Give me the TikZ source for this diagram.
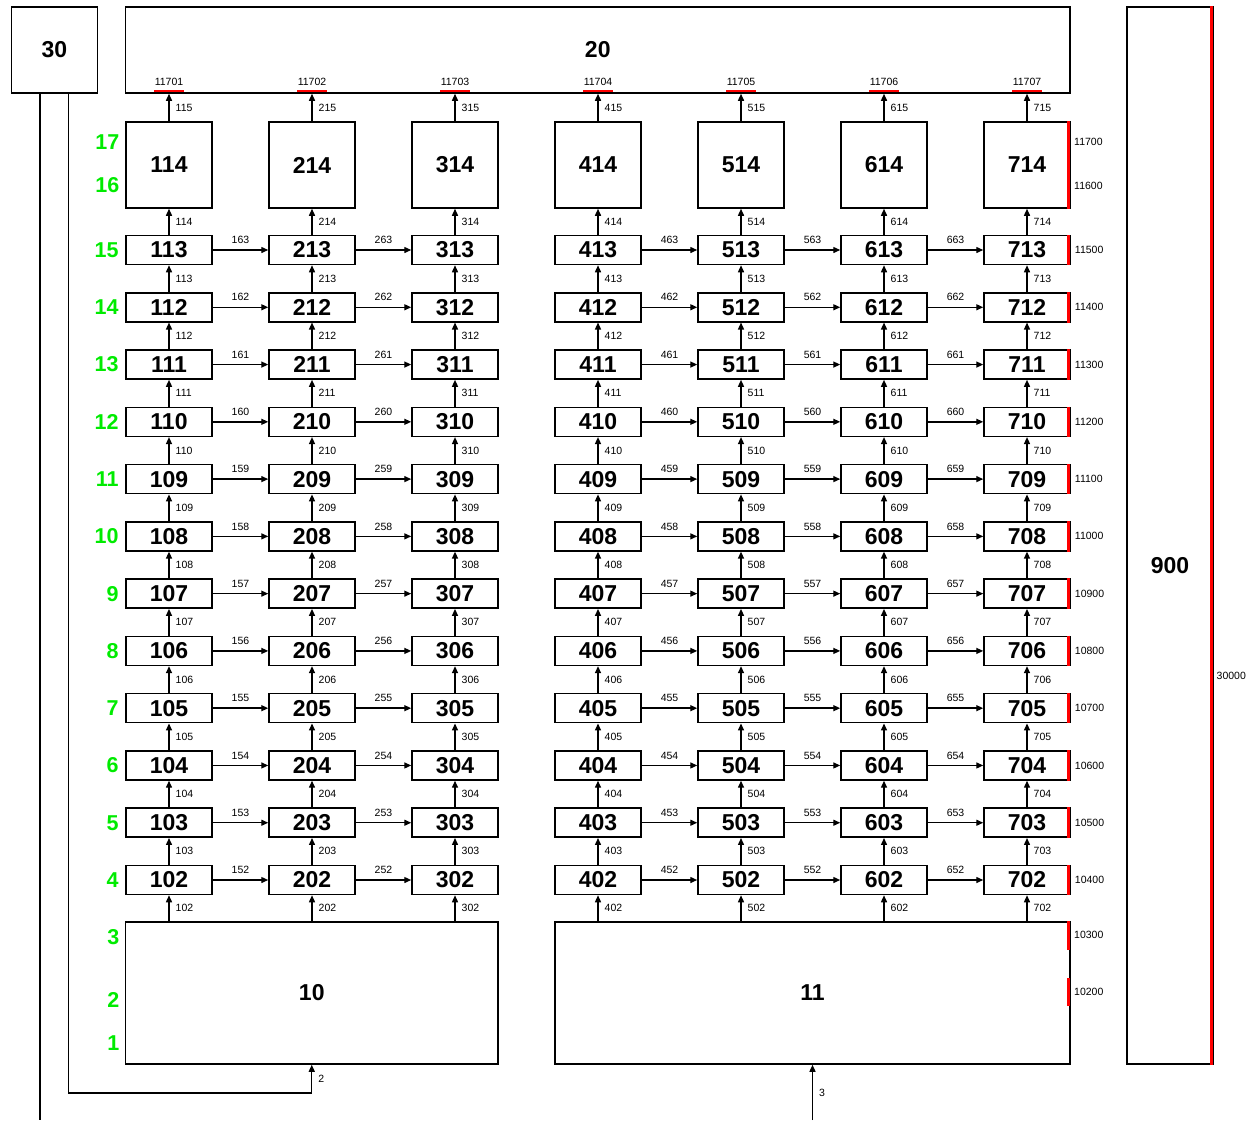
\documentclass[tikz,border=0pt]{standalone}
\usepackage{fontspec}
\setmainfont{Liberation Sans}
\usetikzlibrary{arrows.meta,calc}
\definecolor{gr}{RGB}{0,235,0}
\definecolor{rd}{RGB}{255,0,0}
\newcommand\bigtxt{\fontsize{23}{25}\selectfont\bfseries}
\newcommand\smtxt{\fontsize{10.5}{12}\selectfont}
\newcommand\grtxt{\fontsize{21.5}{24}\selectfont\bfseries}
\begin{document}
\begin{tikzpicture}[x=1pt,y=-1pt,
  box/.style={draw,line width=1.5pt,inner sep=0,font=\bigtxt},
  rowbox/.style={box,minimum width=86pt,minimum height=29pt},
  arr/.style={line width=1.4pt,-{Triangle[length=7pt,width=6pt]}},
  ln/.style={line width=1.4pt},
  vlab/.style={font=\smtxt,inner sep=0,anchor=west,xshift=6pt},
  hlab/.style={font=\smtxt,inner sep=0,anchor=south,yshift=5.5pt},
  rlab/.style={font=\smtxt,inner sep=0,anchor=west},
  tlab/.style={font=\smtxt,inner sep=0},
  glab/.style={font=\grtxt,text=gr,inner sep=0,anchor=east},
  redbar/.style={draw=rd,line width=2.6pt},
  sidebar/.style={draw=rd,line width=3.2pt}
]
\useasboundingbox (0,0) rectangle (1247,1120);

% big boxes
\node[box,minimum width=86pt,minimum height=86pt] (b30) at (54.5,50) {30};
\node[box,minimum width=944.5pt,minimum height=86pt] (b20) at (597.75,50) {20};
\node[box,minimum width=372.5pt,minimum height=142pt] (b10) at (311.75,993) {10};
\node[box,minimum width=515pt,minimum height=142pt] (b11) at (812.5,993) {11};
\node[box,minimum width=86pt,minimum height=1057pt] (b900) at (1170,535.5) {};
\node[font=\bigtxt] (t900) at (1170,566) {900};
\draw[sidebar] ($(b900.north east)+(-2.3,0)$) -- ($(b900.south east)+(-2.3,0)$);
\node[rlab] (t30000) at (1216.5,676) {30000};

% column boxes
\foreach \c/\x in {1/169,2/312,3/455,4/598,5/741,6/884,7/1027}{
  \foreach \r in {2,...,13}{
    \pgfmathtruncatemacro\nn{\c*100+\r}
    \node[rowbox] (b\c-\r) at (\x,{880-(\r-2)*57.2727}) {\nn};
  }
  \pgfmathtruncatemacro\nn{\c*100+14}
  \node[box,minimum width=86pt,minimum height=86pt] (b\c-14) at (\x,165) {\nn};
}

% vertical arrows
\foreach \c in {1,...,7}{
  \foreach \r [evaluate=\r as \s using int(\r+1)] in {2,...,13}{
    \pgfmathtruncatemacro\nn{\c*100+\s}
    \draw[arr] (b\c-\r.north) -- node[vlab] (v\c-\s) {\nn} (b\c-\s.south);
  }
  \pgfmathtruncatemacro\nn{\c*100+15}
  \draw[arr] (b\c-14.north) -- node[vlab] (v\c-15) {\nn} (b\c-14.north |- b20.south);
  \draw[redbar] ($(b\c-14.north |- b20.south)+(-15,-2.6)$) -- ++(30,0);
  \node[tlab] (t117\c) at ($(b\c-14.north |- b20.south)+(0,-12)$) {1170\c};
}
\foreach \c in {1,2,3}
  \draw[arr] (b\c-2.south |- b10.north) -- node[vlab] (v\c-2) {\c02} (b\c-2.south);
\foreach \c in {4,...,7}
  \draw[arr] (b\c-2.south |- b11.north) -- node[vlab] (v\c-2) {\c02} (b\c-2.south);

% horizontal arrows
\foreach \c/\d in {1/2,2/3,4/5,5/6,6/7}{
  \foreach \r in {2,...,13}{
    \pgfmathtruncatemacro\nn{\c*100+50+\r}
    \draw[arr] (b\c-\r.east) -- node[hlab] (h\c-\r) {\nn} (b\d-\r.west);
  }
}

% right side red bars and labels
\foreach \r in {2,...,13}{
  \pgfmathtruncatemacro\nn{10000+(\r+2)*100}
  \draw[sidebar] ($(b7-\r.north east)+(-2.4,0)$) -- ($(b7-\r.south east)+(-2.4,0)$);
  \node[rlab] (r\r) at ($(b7-\r.east)+(4,0)$) {\nn};
}
\draw[sidebar] ($(b7-14.north east)+(-2.4,0)$) -- ($(b7-14.south east)+(-2.4,0)$);
\node[rlab] (r17) at (1074,142) {11700};
\node[rlab] (r16) at (1074,186) {11600};
\draw[sidebar] ($(b11.north east)+(-2.4,0)$) -- ($(b11.north east)+(-2.4,28.5)$);
\draw[sidebar] ($(b11.north east)+(-2.4,57)$) -- ($(b11.north east)+(-2.4,85)$);
\node[rlab] (r3) at (1074,935) {10300};
\node[rlab] (r2) at (1074,992) {10200};

% green labels
\foreach \r in {2,...,13}{
  \pgfmathtruncatemacro\g{\r+2}
  \node[glab] (g\g) at ($(b1-\r.west)+(-6.5,0)$) {\g};
}
\node[glab] (g17) at (119.5,142) {17};
\node[glab] (g16) at (119.5,185) {16};
\node[glab] (g3) at (119.5,937) {3};
\node[glab] (g2) at (119.5,1000) {2};
\node[glab] (g1) at (119.5,1043) {1};

% lines from 30 and inputs
\coordinate (e30) at (40,1120);
\draw[ln] (b30.south -| e30) -- (e30);
\coordinate (k2) at (68.5,1093);
\draw[arr] (b30.south -| k2) -- (k2) -- (k2 -| b10.south) -- node[vlab] (l2) {2} (b10.south);
\coordinate (s3) at (812.5,1120);
\draw[arr] (s3) -- node[vlab] (l3) {3} (s3 |- b11.south);
\end{tikzpicture}
\end{document}
